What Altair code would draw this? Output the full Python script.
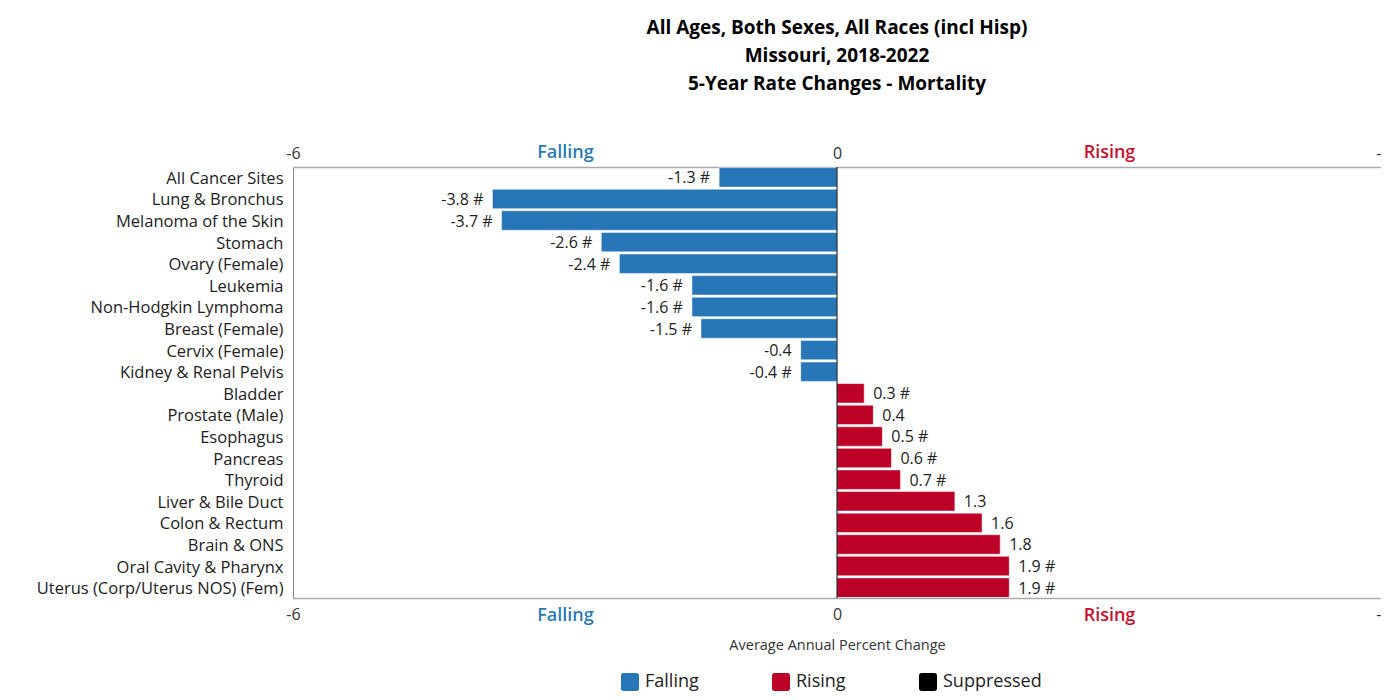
import altair as alt
import pandas as pd

sites = [
    "All Cancer Sites", "Lung & Bronchus", "Melanoma of the Skin", "Stomach",
    "Ovary (Female)", "Leukemia", "Non-Hodgkin Lymphoma", "Breast (Female)",
    "Cervix (Female)", "Kidney & Renal Pelvis", "Bladder", "Prostate (Male)",
    "Esophagus", "Pancreas", "Thyroid", "Liver & Bile Duct", "Colon & Rectum",
    "Brain & ONS", "Oral Cavity & Pharynx", "Uterus (Corp/Uterus NOS) (Fem)",
]
aapc = [-1.3, -3.8, -3.7, -2.6, -2.4, -1.6, -1.6, -1.5, -0.4, -0.4,
        0.3, 0.4, 0.5, 0.6, 0.7, 1.3, 1.6, 1.8, 1.9, 1.9]
flags = ["#", "#", "#", "#", "#", "#", "#", "#", "", "#",
         "#", "", "#", "#", "#", "", "", "", "#", "#"]
trend_names = ["Falling", "Rising", "Suppressed"]
trend_colors = ["#2676b8", "#bd0026", "#000000"]
axis_values = [-6, -3, 0, 3, 6]
zero_line = [0]

BLUE_TXT = "#2a7ab9"
RED_TXT = "#c8102e"
FONT = "Open Sans"
ROUNDED_SQUARE = ("M -0.7,-1 L 0.7,-1 Q 1,-1 1,-0.7 L 1,0.7 Q 1,1 0.7,1 "
                  "L -0.7,1 Q -1,1 -1,0.7 L -1,-0.7 Q -1,-1 -0.7,-1 Z")

df = pd.DataFrame({"site": sites, "aapc": aapc, "flag": flags})
df["trend"] = ["Falling" if v < 0 else "Rising" for v in aapc]
df["label"] = [f"{v:.1f}" + (f" {f}" if f else "") for v, f in zip(aapc, flags)]

xscale = alt.Scale(domain=[-6, 6], nice=False, zero=False)
label_expr = ("datum.value == -3 ? 'Falling' : datum.value == 3 ? 'Rising' : "
              "datum.value == 6 ? '-' : '' + datum.value")
label_color = {"condition": [{"test": "datum.value == -3", "value": BLUE_TXT},
                             {"test": "datum.value == 3", "value": RED_TXT}],
               "value": "#333333"}
label_size = {"condition": {"test": "abs(datum.value) == 3", "value": 18}, "value": 16}
label_weight = {"condition": {"test": "abs(datum.value) == 3", "value": 600}, "value": 400}
label_align = {"condition": {"test": "datum.value == 6", "value": "right"}, "value": "center"}


def x_axis(orient, title, pad):
    kw = dict(orient=orient, values=axis_values, labelExpr=label_expr,
              labelColor=label_color, labelFontSize=label_size,
              labelFontWeight=label_weight, labelAlign=label_align,
              grid=False, ticks=False,
              domainColor="#aaaaaa", domainWidth=1.5, labelPadding=pad,
              labelOverlap=False, labelFlush=False, labelBound=False,
              labelFont=FONT)
    if title:
        return alt.Axis(title=title, titleFont=FONT, titleFontSize=14.5,
                        titleFontWeight="normal", titleColor="#333333",
                        titlePadding=14, **kw)
    return alt.Axis(title=None, **kw)


y_enc = alt.Y("site:N", sort=sites,
              scale=alt.Scale(paddingInner=0.1, paddingOuter=0.03),
              axis=alt.Axis(title=None, ticks=False, labelFontSize=16.5,
                            labelFont=FONT, labelColor="#222222",
                            labelPadding=10, labelLimit=400, labelOffset=1.5,
                            domainColor="#888888", domainWidth=1))

base = alt.Chart(df)

bars = base.mark_bar(stroke="white", strokeWidth=0.5).encode(
    x=alt.X("aapc:Q", scale=xscale,
            axis=x_axis("bottom", "Average Annual Percent Change", 8)),
    y=y_enc,
    color=alt.Color("trend:N",
                    scale=alt.Scale(domain=trend_names, range=trend_colors),
                    legend=alt.Legend(orient="none", legendX=328, legendY=506,
                                      direction="horizontal", title=None,
                                      symbolType=ROUNDED_SQUARE, symbolSize=324,
                                      symbolStrokeWidth=0, symbolOpacity=1,
                                      labelFontSize=18, labelFont=FONT,
                                      labelColor="#222222", columnPadding=73,
                                      labelOffset=6, padding=0)),
)

neg_text = base.transform_filter("datum.aapc < 0").mark_text(
    align="right", dx=-9, dy=1, fontSize=16, font=FONT, color="#222222"
).encode(x=alt.X("aapc:Q", scale=xscale, axis=None), y=y_enc, text="label:N")

pos_text = base.transform_filter("datum.aapc > 0").mark_text(
    align="left", dx=9, dy=1, fontSize=16, font=FONT, color="#222222"
).encode(x=alt.X("aapc:Q", scale=xscale, axis=None), y=y_enc, text="label:N")

zero = alt.Chart(pd.DataFrame({"z": zero_line})).mark_rule(
    color="#000000", strokeWidth=1
).encode(x=alt.X("z:Q", scale=xscale, axis=x_axis("top", None, 6)))

chart = alt.layer(bars, neg_text, pos_text, zero).resolve_axis(
    x="independent"
).properties(
    width=1088, height=431,
    title=alt.TitleParams(
        text=["All Ages, Both Sexes, All Races (incl Hisp)",
              "Missouri, 2018-2022",
              "5-Year Rate Changes - Mortality"],
        font=FONT, fontSize=19, fontWeight="bold", color="#000000",
        lineHeight=28, anchor="middle", frame="group", offset=49),
    autosize=alt.AutoSizeParams(type="none"),
    padding={"left": 285, "top": 159, "right": 0, "bottom": 94},
).configure_view(stroke=None)

chart.save("out.html", embed_options={"renderer": "svg", "actions": False})
